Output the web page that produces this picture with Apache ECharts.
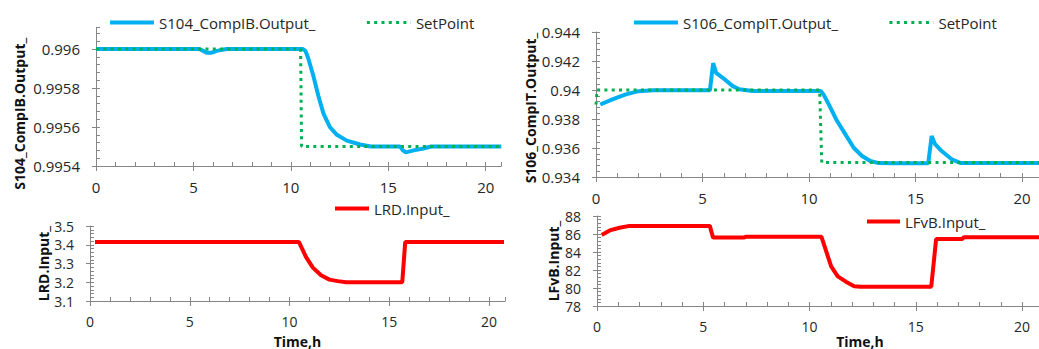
<!DOCTYPE html>
<html>
<head>
<meta charset="utf-8">
<script src="https://cdn.jsdelivr.net/npm/echarts@6/dist/echarts.min.js"></script>
<style>html,body{margin:0;padding:0;background:#fff}#c{width:1039px;height:349px}</style>
</head>
<body>
<div id="c"></div>
<script>
// ---- data (time in h) ----
const tS104   = [0, 5.3, 5.5, 5.7, 5.9, 6.2, 6.7, 10.6, 10.75, 10.9, 11.16, 11.41, 11.67, 12.0, 12.36, 12.87, 13.55, 14.1, 15.6, 15.75, 15.9, 16.3, 16.8, 17.2, 20.8];
const vS104   = [0.996, 0.996, 0.99599, 0.99598, 0.99598, 0.99599, 0.996, 0.996, 0.99599, 0.99595, 0.99586, 0.99576, 0.99567, 0.9956, 0.99556, 0.99553, 0.99551, 0.9955, 0.9955, 0.99548, 0.99547, 0.99548, 0.99549, 0.9955, 0.9955];
const tS104SP = [0, 10.5, 10.55, 20.8];
const vS104SP = [0.996, 0.996, 0.9955, 0.9955];

const tS106   = [0.2, 0.8, 1.4, 2.0, 2.7, 5.35, 5.5, 5.64, 5.95, 6.42, 6.73, 7.35, 10.55, 10.7, 10.93, 11.32, 11.71, 12.1, 12.49, 12.88, 13.27, 14.0, 15.6, 15.76, 15.92, 16.23, 16.7, 17.1, 20.8];
const vS106   = [0.939, 0.93937, 0.9397, 0.93992, 0.93998, 0.93998, 0.94185, 0.94118, 0.94084, 0.94027, 0.94005, 0.93993, 0.93993, 0.93965, 0.93901, 0.93786, 0.93694, 0.93602, 0.93545, 0.9351, 0.93496, 0.93495, 0.93495, 0.93683, 0.93626, 0.93579, 0.93522, 0.93497, 0.93497];
const tS106SP = [0, 0.05, 10.5, 10.6, 20.8];
const vS106SP = [0.939, 0.94, 0.94, 0.935, 0.935];

const tLRD  = [0.25, 10.47, 10.83, 11.17, 11.58, 12.0, 12.42, 12.83, 15.65, 15.8, 20.75];
const vLRD  = [3.415, 3.415, 3.334, 3.278, 3.237, 3.214, 3.206, 3.2, 3.2, 3.415, 3.415];

const tLFvB = [0.22, 0.6, 1.06, 1.53, 5.31, 5.46, 6.93, 7.0, 10.56, 11.02, 11.33, 11.71, 12.1, 12.41, 15.73, 15.96, 17.19, 17.27, 20.8];
const vLFvB = [85.9, 86.4, 86.7, 86.9, 86.9, 85.6, 85.6, 85.7, 85.7, 82.4, 81.3, 80.7, 80.2, 80.15, 80.15, 85.45, 85.45, 85.65, 85.65];

const xTicks = [0, 5, 10, 15, 20];

const zip = (t, v) => t.map((x, i) => [x, v[i]]);

const FONT = 'Open Sans';
const AX = '#868686';
const TXT = '#262626';
const XMAX = 20.8;

const grids = [
  {left: 96,  top: 27.5, width: 405.3, height: 138.5},
  {left: 90,  top: 226,  width: 415,   height: 78},
  {left: 596, top: 32,   width: 444,   height: 145},
  {left: 597, top: 216,  width: 452,   height: 91}
];
const yDefs = [
  {min: 0.9954, max: 0.99611, interval: 0.0002, name: 'S104_CompIB.Output_', gap: 70, pad: [0, 34, 0, 0], fs: 15},
  {min: 3.1, max: 3.5, interval: 0.1, name: 'LRD.Input_', gap: 40, pad: [0, 0, 0, 0], fs: 14},
  {min: 0.934, max: 0.944, interval: 0.002, name: 'S106_CompIT.Output_', gap: 56, pad: [0, 7, 0, 0], fs: 15},
  {min: 78, max: 88, interval: 2, name: 'LFvB.Input_', gap: 37, pad: [0, 0, 0, 0], fs: 14}
];
const xNames = ['', 'Time,h', '', 'Time,h'];
const xNamePad = [[0,0,0,0], [0,0,0,0], [0,0,0,0], [0,0,0,84]];
const xNameGap = [0, 33, 0, 28];

const fmt = v => String(+(+v).toFixed(6));

const xAxis = [], yAxis = [];
grids.forEach((g, i) => {
  xAxis.push({
    type: 'value', gridIndex: i, min: 0, max: XMAX, interval: 5,
    axisLine: {show: true, onZero: false, lineStyle: {color: AX, width: 1}},
    axisTick: {show: true, inside: false, length: 5, lineStyle: {color: AX}},
    axisLabel: {show: true, showMaxLabel: false, margin: 13, color: TXT, fontFamily: FONT, fontSize: yDefs[i].fs,
      formatter: v => xTicks.indexOf(v) >= 0 ? String(v) : ''},
    splitLine: {show: false},
    name: xNames[i], nameLocation: 'middle', nameGap: xNameGap[i],
    nameTextStyle: {fontFamily: FONT, fontWeight: 'bold', fontSize: 14, color: '#111', padding: xNamePad[i]}
  });
  const y = yDefs[i];
  yAxis.push({
    type: 'value', gridIndex: i, min: y.min, max: y.max, interval: y.interval,
    axisLine: {show: true, onZero: false, lineStyle: {color: AX, width: 1}},
    axisTick: {show: true, inside: false, length: 4, lineStyle: {color: AX}},
    axisLabel: {show: true, showMaxLabel: y.max === 0.99611 ? false : true, margin: 16, color: TXT, fontFamily: FONT, fontSize: y.fs, formatter: fmt},
    splitLine: {show: false},
    name: y.name, nameLocation: 'middle', nameGap: y.gap,
    nameTextStyle: {fontFamily: FONT, fontWeight: 'bold', fontSize: 14, color: '#111', padding: y.pad}
  });
});
// secondary axes: inner minor ticks
grids.forEach((g, i) => {
  xAxis.push({
    type: 'value', gridIndex: i, min: 0, max: XMAX, interval: 1, position: 'bottom',
    axisLine: {show: false}, axisLabel: {show: false}, splitLine: {show: false},
    axisTick: {show: true, inside: true, length: 4, lineStyle: {color: AX}}
  });
  const y = yDefs[i];
  yAxis.push({
    type: 'value', gridIndex: i, min: y.min, max: y.max, interval: y.interval / 5, position: 'left',
    axisLine: {show: false}, axisLabel: {show: false}, splitLine: {show: false},
    axisTick: {show: true, inside: true, length: 4, lineStyle: {color: AX}}
  });
});

const BLUE = '#00B0F0', GREEN = '#00B050', RED = '#FF0000';
const blue = {width: 4, color: BLUE};
const dotted = {width: 3, color: GREEN, type: [3, 4.3]};
const red = {width: 4, color: RED};

const line = (name, data, gi, ls, z) => ({
  type: 'line', name, data, xAxisIndex: gi, yAxisIndex: gi,
  symbol: 'none', showSymbol: false, animation: false, z,
  lineStyle: ls, itemStyle: {color: ls.color}, emphasis: {disabled: true}
});

const legendBase = {
  orient: 'horizontal', itemWidth: 44, itemHeight: 14, itemGap: 50, padding: 0,
  textStyle: {fontFamily: FONT, fontSize: 15, color: TXT},
  itemStyle: {opacity: 0, borderWidth: 0},
  selectedMode: false
};
const li = (name, ls) => ({name, lineStyle: Object.assign({}, ls)});

const option = {
  backgroundColor: '#fff',
  animation: false,
  grid: grids,
  xAxis, yAxis,
  legend: [
    Object.assign({}, legendBase, {left: 108, top: 15, data: [li('S104_CompIB.Output_', blue), li('SetPoint', dotted)]}),
    Object.assign({}, legendBase, {left: 333, top: 201, itemWidth: 34, data: [li('LRD.Input_', red)]}),
    Object.assign({}, legendBase, {left: 632, top: 15, data: [li('S106_CompIT.Output_', blue), li('SetPoint', dotted)]}),
    Object.assign({}, legendBase, {left: 865, top: 214, itemWidth: 33, data: [li('LFvB.Input_', red)]})
  ],
  series: [
    line('S104_CompIB.Output_', zip(tS104, vS104), 0, blue, 2),
    line('SetPoint', zip(tS104SP, vS104SP), 0, dotted, 3),
    line('LRD.Input_', zip(tLRD, vLRD), 1, red, 2),
    line('S106_CompIT.Output_', zip(tS106, vS106), 2, blue, 2),
    line('SetPoint', zip(tS106SP, vS106SP), 2, dotted, 3),
    line('LFvB.Input_', zip(tLFvB, vLFvB), 3, red, 2)
  ]
};

const chart = echarts.init(document.getElementById('c'), null, {renderer: 'svg'});
chart.setOption(option);
</script>
</body>
</html>
